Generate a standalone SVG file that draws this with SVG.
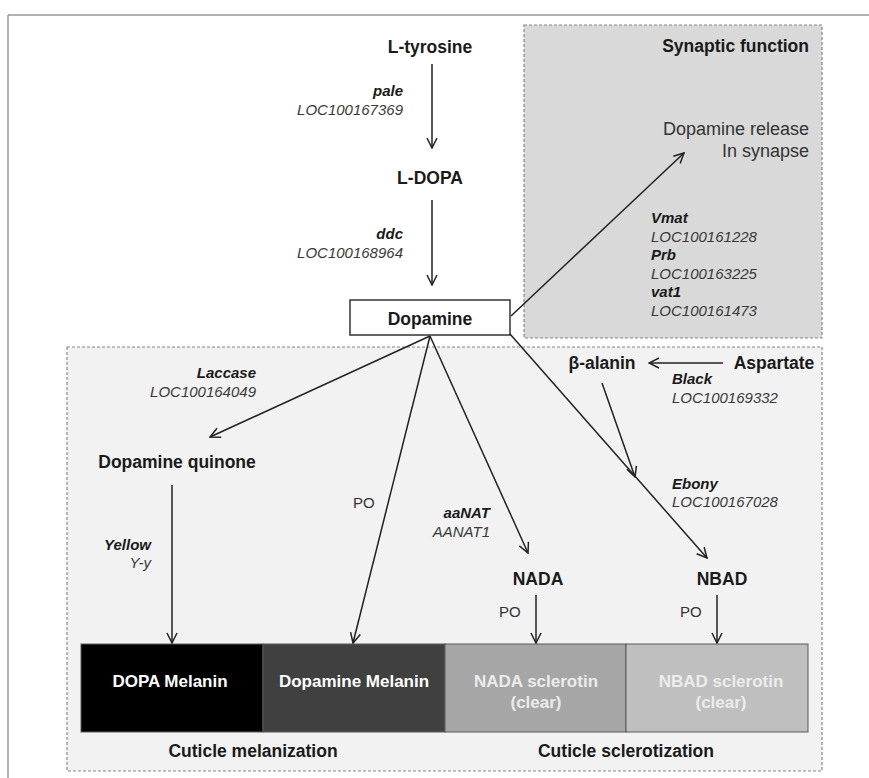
<svg xmlns="http://www.w3.org/2000/svg" width="869" height="778" viewBox="0 0 869 778">
<style>
text{font-family:"Liberation Sans",Arial,sans-serif;fill:#1a1a1a}
.b{font-weight:bold;font-size:17.5px}
.bi{font-weight:bold;font-style:italic;font-size:15px}
.i{font-style:italic;font-size:15px;fill:#3a3a3a}
.r{font-size:18px;fill:#333}
.po{font-size:15px;fill:#333}
.m{text-anchor:middle}
.e{text-anchor:end}
.w{font-weight:bold;font-size:17px;fill:#ffffff;text-anchor:middle}
.lw{font-weight:bold;font-size:17px;fill:#ececec;text-anchor:middle}
.dash{stroke:#888;stroke-width:1.2;stroke-dasharray:3 2}
.cn line{stroke:#222;stroke-width:1.5;marker-end:url(#ah)}
.cb{stroke:#5a5a5a;stroke-width:1}
</style>
<defs>
<marker id="ah" viewBox="0 0 12 12" refX="11" refY="6" markerWidth="12" markerHeight="12" markerUnits="userSpaceOnUse" orient="auto">
<path d="M1,1 L11,6 L1,11" fill="none" stroke="#222" stroke-width="1.5"/>
</marker>
</defs>
<rect width="869" height="778" fill="#ffffff"/>
<g id="frame" stroke="#999" stroke-width="1.5" fill="none">
<line x1="8" y1="15" x2="869" y2="15"/>
<line x1="8" y1="15" x2="8" y2="778"/>
</g>
<g id="synaptic-panel">
<rect x="524" y="25" width="298" height="313" fill="#d9d9d9" class="dash"/>
<text class="b e" x="809" y="52">Synaptic function</text>
</g>
<g id="cuticle-panel">
<rect x="67" y="347" width="755" height="424" fill="#f2f2f2" class="dash"/>
<text class="b m" x="253" y="757">Cuticle melanization</text>
<text class="b m" x="626" y="757">Cuticle sclerotization</text>
</g>
<g id="l-tyrosine"><text class="b m" x="430" y="53">L-tyrosine</text></g>
<g id="l-dopa"><text class="b m" x="430" y="184">L-DOPA</text></g>
<g id="dopamine">
<rect x="350" y="300" width="160" height="35" fill="#ffffff" stroke="#333" stroke-width="1.5"/>
<text class="b m" x="430" y="325">Dopamine</text>
</g>
<g id="dopamine-release">
<text class="r e" x="809" y="135">Dopamine release</text>
<text class="r e" x="809" y="157">In synapse</text>
</g>
<g id="dopamine-quinone"><text class="b m" x="177" y="468">Dopamine quinone</text></g>
<g id="beta-alanin"><text class="b m" x="602" y="369">β-alanin</text></g>
<g id="aspartate"><text class="b m" x="774" y="369">Aspartate</text></g>
<g id="nada"><text class="b m" x="538" y="585">NADA</text></g>
<g id="nbad"><text class="b m" x="722" y="585">NBAD</text></g>
<g id="dopa-melanin">
<rect x="81" y="644" width="182" height="88" fill="#000000" class="cb"/>
<text class="w" x="170" y="687">DOPA Melanin</text>
</g>
<g id="dopamine-melanin">
<rect x="263" y="644" width="182" height="88" fill="#404040" class="cb"/>
<text class="w" x="354" y="687">Dopamine Melanin</text>
</g>
<g id="nada-sclerotin">
<rect x="445" y="644" width="181" height="88" fill="#a6a6a6" class="cb"/>
<text class="lw" x="536" y="687">NADA sclerotin</text>
<text class="lw" x="536" y="708">(clear)</text>
</g>
<g id="nbad-sclerotin">
<rect x="626" y="644" width="182" height="88" fill="#bfbfbf" class="cb"/>
<text class="lw" x="721" y="687">NBAD sclerotin</text>
<text class="lw" x="721" y="708">(clear)</text>
</g>
<g id="connectors" class="cn">
<line x1="432" y1="64" x2="432" y2="148"/>
<line x1="432" y1="200" x2="432" y2="285"/>
<line x1="511" y1="316" x2="684" y2="153"/>
<line x1="430" y1="336" x2="210" y2="437"/>
<line x1="172" y1="485" x2="172" y2="643"/>
<line x1="430" y1="336" x2="353" y2="643"/>
<line x1="430" y1="336" x2="528" y2="553"/>
<line x1="510" y1="334" x2="707" y2="558"/>
<line x1="723" y1="363" x2="649" y2="363"/>
<line x1="602" y1="383" x2="635" y2="477"/>
<line x1="536" y1="595" x2="536" y2="643"/>
<line x1="717" y1="595" x2="717" y2="643"/>
</g>
<g id="labels">
<text class="bi e" x="403" y="96">pale</text>
<text class="i e" x="403" y="115">LOC100167369</text>
<text class="bi e" x="403" y="239">ddc</text>
<text class="i e" x="403" y="258">LOC100168964</text>
<text class="bi" x="651" y="223">Vmat</text>
<text class="i" x="651" y="242">LOC100161228</text>
<text class="bi" x="651" y="260">Prb</text>
<text class="i" x="651" y="279">LOC100163225</text>
<text class="bi" x="651" y="297">vat1</text>
<text class="i" x="651" y="316">LOC100161473</text>
<text class="bi e" x="256" y="378">Laccase</text>
<text class="i e" x="256" y="397">LOC100164049</text>
<text class="bi e" x="151" y="550">Yellow</text>
<text class="i e" x="151" y="568">Y-y</text>
<text class="po" x="353" y="508">PO</text>
<text class="bi e" x="490" y="518">aaNAT</text>
<text class="i e" x="490" y="537">AANAT1</text>
<text class="bi" x="672" y="384">Black</text>
<text class="i" x="672" y="403">LOC100169332</text>
<text class="bi" x="672" y="489">Ebony</text>
<text class="i" x="672" y="507">LOC100167028</text>
<text class="po" x="499" y="617">PO</text>
<text class="po" x="680" y="617">PO</text>
</g>
</svg>
